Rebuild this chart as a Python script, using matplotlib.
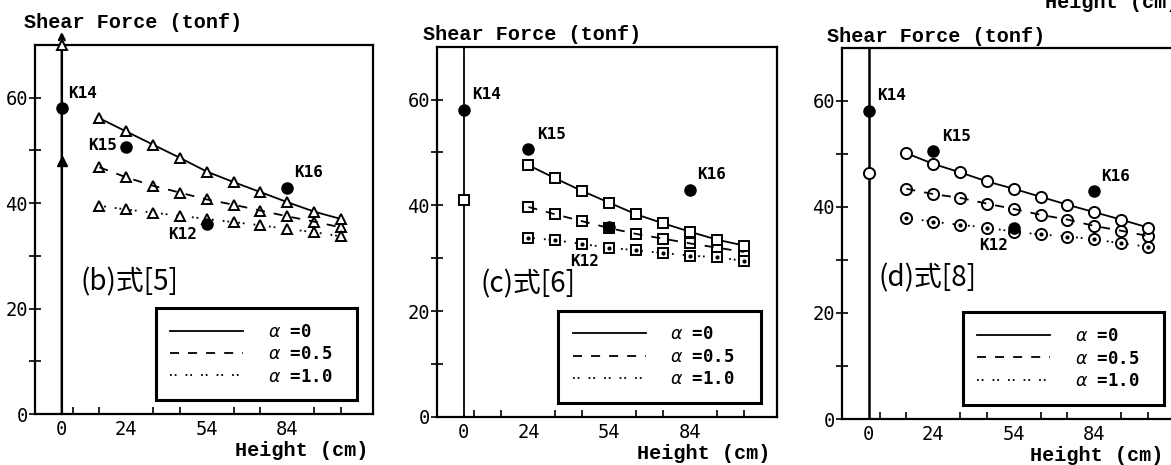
import matplotlib
matplotlib.use("Agg")
import matplotlib.pyplot as plt
from matplotlib.lines import Line2D

# --- data (Height in cm, Shear Force in tonf) ---
heights_b = [14, 24, 34, 44, 54, 64, 74, 84, 94, 104]
b_a0 = [56.1, 53.6, 51.1, 48.6, 46.0, 44.0, 42.1, 40.2, 38.4, 37.0]
b_a05 = [46.8, 44.9, 43.3, 42.0, 40.7, 39.7, 38.6, 37.5, 36.5, 35.4]
b_a10 = [39.5, 38.8, 38.2, 37.6, 37.0, 36.4, 35.8, 35.1, 34.5, 33.7]

heights_c = [24, 34, 44, 54, 64, 74, 84, 94, 104]
c_a0 = [47.6, 45.1, 42.7, 40.5, 38.3, 36.6, 35.0, 33.5, 32.4]
c_a05 = [39.7, 38.3, 37.0, 35.7, 34.6, 33.7, 32.8, 32.0, 31.2]
c_a10 = [33.9, 33.4, 32.7, 32.0, 31.5, 31.0, 30.5, 30.2, 29.5]

heights_d = [14, 24, 34, 44, 54, 64, 74, 84, 94, 104]
d_a0 = [50.1, 48.1, 46.5, 44.8, 43.4, 41.9, 40.4, 39.0, 37.6, 36.1]
d_a05 = [43.4, 42.4, 41.7, 40.6, 39.6, 38.5, 37.6, 36.4, 35.5, 34.5]
d_a10 = [37.9, 37.2, 36.6, 36.1, 35.3, 34.8, 34.4, 33.9, 33.1, 32.5]

# values on the base line (height 0)
base_b_open = 70.0
base_b_filled = 48.0
base_c_open = 41.0
base_d_open = 46.4

# test specimens
spec_names = ["K14", "K15", "K12", "K16"]
spec_height = [0, 24, 54, 84]
spec_shear = [58.0, 50.6, 36.0, 42.9]

alpha_labels = [r"$\alpha$ =0", r"$\alpha$ =0.5", r"$\alpha$ =1.0"]
x_ticklabels = [0, 24, 54, 84]
x_minor = [4, 14, 24, 34, 44, 54, 64, 74, 84, 94, 104]

MONO = "DejaVu Sans Mono"
SERIF_MONO = "Liberation Mono"
CJK = ["Noto Sans CJK JP", "DejaVu Sans"]

W, H = 1171, 465
fig = plt.figure(figsize=(W / 100, H / 100), dpi=100)


def px_axes(l, t, r, b):
    return fig.add_axes([l / W, 1 - b / H, (r - l) / W, (b - t) / H])


dash_style = (0, (5, 5))
dot_style = (0, (1, 1.6, 1, 5))


def draw_series(ax, x, y, ls, marker, ms, through=False, dot=False):
    ax.plot(x, y, color="k", lw=1.3, ls=ls, zorder=3)
    ax.plot(x, y, ls="none", marker=marker, ms=ms, mfc="white", mec="k",
            mew=1.4, zorder=2 if through else 4)
    if dot:
        ax.plot(x, y, ls="none", marker="o", ms=2, color="k", zorder=5)


def style_axes(ax):
    ax.set_xlim(-10, 116)
    ax.set_ylim(0, 70)
    for s in ax.spines.values():
        s.set_linewidth(1.6)
    ax.set_xticks(x_ticklabels)
    ax.set_xticks(x_minor, minor=True)
    ax.set_yticks([0, 20, 40, 60])
    ax.set_yticks([10, 30, 50], minor=True)
    ax.tick_params(axis="x", which="major", length=0, pad=4, labelsize=13.5)
    ax.tick_params(axis="x", which="minor", direction="in", length=5, width=1.2)
    ax.tick_params(axis="y", which="both", direction="inout", length=8, width=1.2,
                   pad=1, labelsize=13.5)
    for lab in ax.get_xticklabels() + ax.get_yticklabels():
        lab.set_family(MONO)
    handles = [Line2D([], [], color="k", lw=1.3, ls="-"),
               Line2D([], [], color="k", lw=1.3, ls=dash_style),
               Line2D([], [], color="k", lw=1.3, ls=dot_style)]
    leg = ax.legend(handles, alpha_labels, loc="upper left",
                    bbox_to_anchor=(0.357, 0.287, 0.597, 0), mode="expand",
                    borderaxespad=0, borderpad=0.85, labelspacing=0.25,
                    handlelength=4.2, handletextpad=1.4, fancybox=False,
                    framealpha=1, edgecolor="k",
                    prop={"family": MONO, "size": 12.5, "weight": "bold"})
    leg.get_frame().set_linewidth(2.2)


def draw_specimens(ax, label_pos):
    ax.plot(spec_height, spec_shear, ls="none", marker="o", ms=8, color="k", zorder=6)
    for name, (tx, ty, ha) in zip(spec_names, label_pos):
        ax.text(tx, ty, name, ha=ha, va="center", fontsize=11.5,
                family=MONO, weight="bold")


# ---------------- (b) ----------------
axb = px_axes(35, 45, 373, 414)
axb.annotate("", xy=(0, 72.5), xytext=(0, 0),
             arrowprops=dict(arrowstyle="->", lw=1.8, color="k",
                             shrinkA=0, shrinkB=0), annotation_clip=False)
axb.plot([0], [base_b_open], ls="none", marker="^", ms=7, mfc="white",
         mec="k", mew=1.4, clip_on=False, zorder=4)
axb.plot([0], [base_b_filled], ls="none", marker="^", ms=7, color="k", zorder=4)
draw_series(axb, heights_b, b_a0, "-", "^", 7)
draw_series(axb, heights_b, b_a05, dash_style, "^", 7, through=True)
draw_series(axb, heights_b, b_a10, dot_style, "^", 7)
draw_specimens(axb, [(2.4, 60.8, "left"), (20.7, 51.0, "right"),
                     (39.8, 34.0, "left"), (86.7, 45.9, "left")])
axb.text(6.9, 25.0, "(b)式[5]", fontsize=20, family=CJK, va="center")
style_axes(axb)

# ---------------- (c) ----------------
axc = px_axes(436.7, 46.7, 776.7, 417)
axc.axvline(0, color="k", lw=1.3)
axc.plot([0], [base_c_open], ls="none", marker="s", ms=6.5, mfc="white",
         mec="k", mew=1.4, zorder=4)
draw_series(axc, heights_c, c_a0, "-", "s", 6.5)
draw_series(axc, heights_c, c_a05, dash_style, "s", 6.5, through=True)
draw_series(axc, heights_c, c_a10, dot_style, "s", 6.5, dot=True)
draw_specimens(axc, [(3.0, 61.0, "left"), (27.1, 53.4, "left"),
                     (39.4, 29.4, "left"), (86.4, 45.9, "left")])
axc.text(6.1, 25.0, "(c)式[6]", fontsize=20, family=CJK, va="center")
style_axes(axc)

# ---------------- (d) ----------------
axd = px_axes(842, 47.7, 1180, 419)
axd.axvline(0, color="k", lw=1.8)
axd.plot([0], [base_d_open], ls="none", marker="o", ms=8, mfc="white",
         mec="k", mew=1.4, zorder=4)
draw_series(axd, heights_d, d_a0, "-", "o", 8)
draw_series(axd, heights_d, d_a05, dash_style, "o", 8, through=True)
draw_series(axd, heights_d, d_a10, dot_style, "o", 8, dot=True)
draw_specimens(axd, [(3.1, 60.9, "left"), (27.5, 53.3, "left"),
                     (41.2, 32.8, "left"), (86.5, 45.8, "left")])
axd.text(3.7, 26.6, "(d)式[8]", fontsize=20, family=CJK, va="center")
style_axes(axd)

# axis titles (placed like the scanned figure)
for x0, y0 in [(24, 28), (422.7, 40), (827, 41.7)]:
    fig.text(x0 / W, 1 - y0 / H, "Shear Force (tonf)", ha="left", va="baseline",
             fontsize=14.5, family=SERIF_MONO, weight="bold")
for x1, y1 in [(368, 456), (770, 459), (1163, 461)]:
    fig.text(x1 / W, 1 - y1 / H, "Height (cm)", ha="right", va="baseline",
             fontsize=14.5, family=SERIF_MONO, weight="bold")
# axis label of a panel above, cut off at the top edge as in the scan
fig.text(1045 / W, 1 - 8 / H, "Height (cm)", ha="left", va="baseline",
         fontsize=14.5, family=SERIF_MONO, weight="bold")

fig.savefig("out.png", dpi=100)
